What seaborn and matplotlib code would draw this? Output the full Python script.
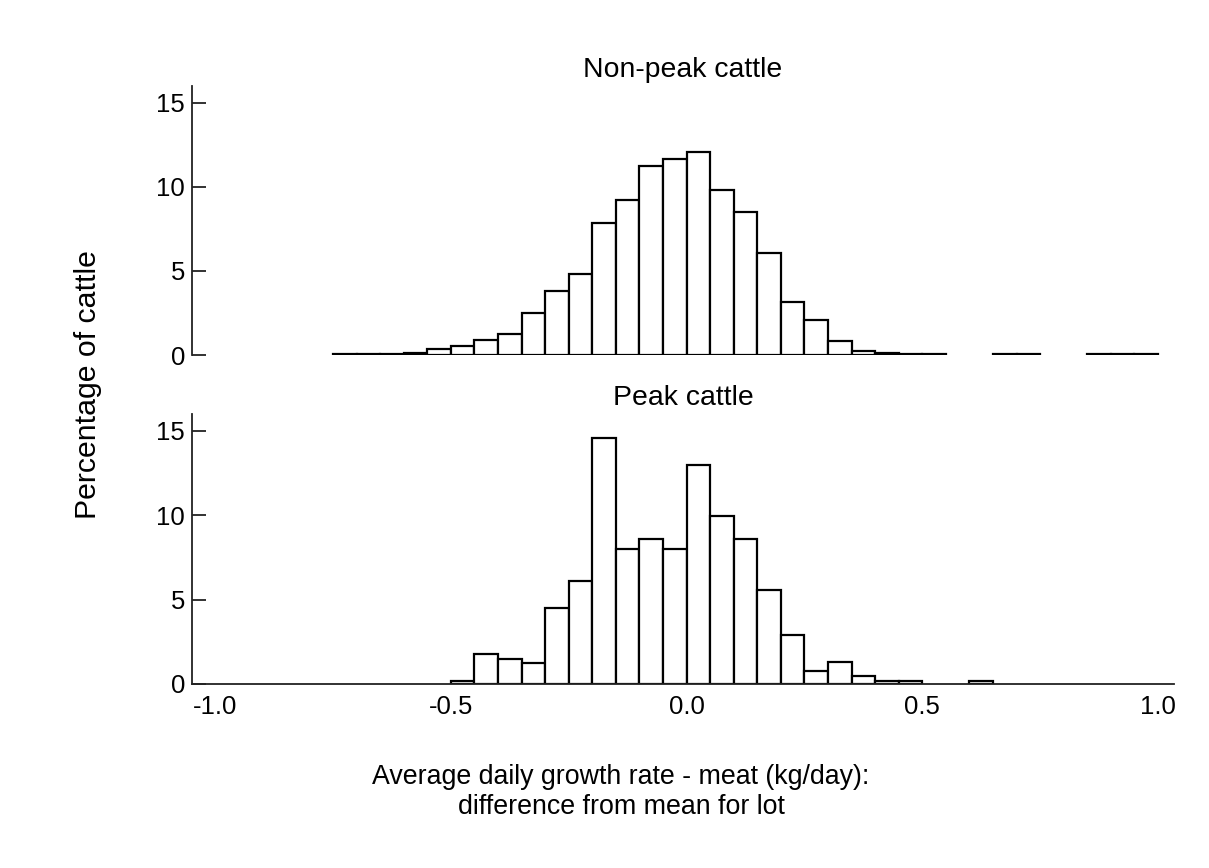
import numpy as np
import pandas as pd
import matplotlib
matplotlib.use("Agg")
import matplotlib.pyplot as plt
import seaborn as sns

# ---- data (percent of cattle per 0.05 kg/day bin) ----
nonpeak_edges = [round(-0.75 + 0.05 * i, 2) for i in range(36)]
nonpeak_pct = [0.05, 0.05, 0.05, 0.12, 0.34, 0.52, 0.87, 1.27, 2.52, 3.79,
               4.82, 7.86, 9.23, 11.27, 11.67, 12.10, 9.84, 8.53, 6.09, 3.13,
               2.08, 0.81, 0.24, 0.10, 0.05, 0.05, 0.0, 0.0, 0.05, 0.05,
               0.0, 0.0, 0.05, 0.05, 0.05]

peak_edges = [round(-0.5 + 0.05 * i, 2) for i in range(24)]
peak_pct = [0.2, 1.8, 1.5, 1.22, 4.52, 6.13, 14.6, 8.03, 8.6, 8.03,
            12.96, 9.94, 8.6, 5.6, 2.9, 0.75, 1.3, 0.45, 0.2, 0.2,
            0.0, 0.0, 0.2]

x_ticks = [-1.0, -0.5, 0.0, 0.5, 1.0]
x_ticklabels = ["-1.0", "-0.5", "0.0", "0.5", "1.0"]
y_ticks = [0, 5, 10, 15]
titles = ["Non-peak cattle", "Peak cattle"]
ylabel = "Percentage of cattle"
xlabel = "Average daily growth rate - meat (kg/day):\ndifference from mean for lot"

sns.set_theme(style="white")
plt.rcParams["font.family"] = ["Liberation Sans", "DejaVu Sans"]
plt.rcParams["text.color"] = "black"
plt.rcParams["xtick.color"] = "black"
plt.rcParams["ytick.color"] = "black"
FS_TICK = 18.5
FS_TITLE = 20.4
FS_YLAB = 21.8
FS_XLAB = 19.3

fig = plt.figure(figsize=(12.09, 8.68), dpi=100)
ax_top = fig.add_axes([0.1588, 0.591, 0.8123, 0.3099])
ax_bot = fig.add_axes([0.1588, 0.212, 0.8123, 0.311])

def draw(ax, edges, pct):
    e = np.array(edges)
    centers = (e[:-1] + e[1:]) / 2
    df = pd.DataFrame({"x": centers, "w": pct})
    sns.histplot(data=df, x="x", weights="w", bins=list(edges), ax=ax,
                 color="white", edgecolor="black", linewidth=1.6, alpha=1)
    for p in ax.patches:
        if p.get_height() <= 0:
            p.set_visible(False)
    ax.set_xlim(-1.049, 1.034)
    ax.set_ylim(0, 16)
    ax.set_yticks(y_ticks)
    ax.set_yticklabels([str(t) for t in y_ticks], fontsize=FS_TICK,
                       color="black")
    ax.tick_params(axis="y", direction="in", length=10, width=1.3,
                   color="#222222", pad=5, left=True)
    ax.set_xlabel("")
    ax.set_ylabel("")
    for s in ["top", "right"]:
        ax.spines[s].set_visible(False)
    ax.spines["left"].set_linewidth(1.3)
    ax.spines["left"].set_color("#222222")

draw(ax_top, nonpeak_edges, nonpeak_pct)
draw(ax_bot, peak_edges, peak_pct)

ax_top.spines["bottom"].set_visible(False)
ax_top.set_xticks([])
ax_bot.spines["bottom"].set_linewidth(1.3)
ax_bot.spines["bottom"].set_color("#222222")
ax_bot.set_xticks(x_ticks)
ax_bot.set_xticklabels(x_ticklabels, fontsize=FS_TICK, color="black")
ax_bot.tick_params(axis="x", length=0, pad=8)

ax_top.set_title(titles[0], fontsize=FS_TITLE, pad=6.5, color="black")
ax_bot.set_title(titles[1], fontsize=FS_TITLE, pad=6.5, color="black")

fig.text(88 / 1209, 1 - 385 / 868, ylabel, rotation=90, fontsize=FS_YLAB,
         ha="center", va="center", color="black")
fig.text(621 / 1209, 1 - 792 / 868, xlabel, fontsize=FS_XLAB, ha="center",
         va="center", linespacing=1.2, color="black")

fig.savefig("out.png", dpi=100, facecolor="white")
